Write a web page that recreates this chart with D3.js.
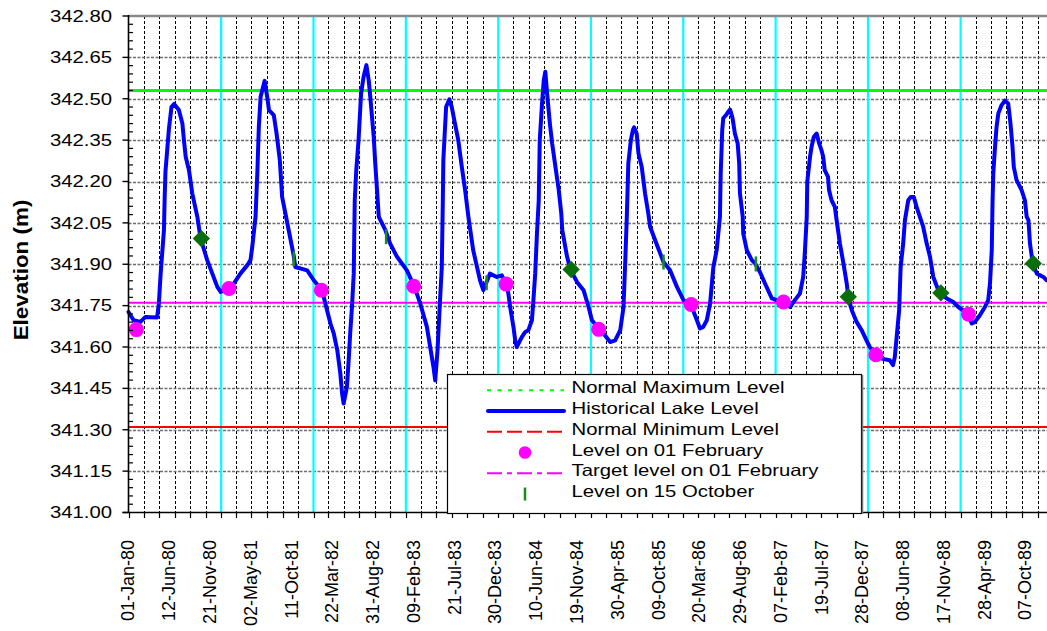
<!DOCTYPE html>
<html><head><meta charset="utf-8">
<script src="https://cdn.jsdelivr.net/npm/d3@7"></script>
<style>
body{margin:0;background:#fff}
svg{display:block}
text{font-family:"Liberation Sans",Arial,sans-serif;fill:#000}
</style>
</head><body>
<svg id="chart" width="1047" height="631"></svg>
<script>
// ---------------- data ----------------
const levelDates = [
"1980-01-01","1980-01-21","1980-02-17","1980-03-08","1980-04-23","1980-04-30","1980-05-07","1980-05-20","1980-05-23","1980-05-26",
"1980-06-03","1980-06-09","1980-06-19","1980-06-29","1980-07-18","1980-08-01","1980-08-07","1980-08-14","1980-08-27","1980-09-09",
"1980-09-29","1980-10-12","1980-11-07","1980-12-17","1980-12-30","1981-02-05","1981-02-20","1981-03-18","1981-04-14","1981-04-27",
"1981-05-04","1981-05-17","1981-05-24","1981-05-30","1981-06-06","1981-06-22","1981-07-02","1981-07-09","1981-07-28","1981-08-08",
"1981-08-21","1981-08-30","1981-09-12","1981-10-15","1981-10-21","1981-12-07","1982-01-02","1982-02-04","1982-02-17","1982-03-09",
"1982-03-22","1982-04-05","1982-04-17","1982-04-24","1982-04-30","1982-05-13","1982-05-20","1982-05-26","1982-06-02","1982-06-09",
"1982-06-13","1982-06-19","1982-06-28","1982-07-08","1982-07-18","1982-07-29","1982-08-07","1982-08-14","1982-08-20","1982-08-27",
"1982-09-02","1982-09-09","1982-09-16","1982-10-12","1982-10-31","1982-11-27","1983-01-05","1983-02-03","1983-02-27","1983-03-25",
"1983-04-07","1983-04-20","1983-04-27","1983-05-06","1983-05-16","1983-05-23","1983-05-27","1983-05-29","1983-06-09","1983-06-22",
"1983-07-01","1983-07-14","1983-07-27","1983-08-10","1983-08-23","1983-09-05","1983-09-24","1983-10-21","1983-11-03","1983-11-16",
"1983-11-29","1983-12-26","1984-01-15","1984-01-31","1984-02-10","1984-02-17","1984-03-01","1984-03-08","1984-03-14","1984-04-03",
"1984-04-16","1984-04-29","1984-05-13","1984-05-19","1984-05-26","1984-06-02","1984-06-09","1984-06-13","1984-06-22","1984-06-29",
"1984-07-05","1984-07-12","1984-07-23","1984-08-01","1984-08-14","1984-08-27","1984-09-06","1984-09-10","1984-09-29","1984-10-12",
"1984-11-07","1984-12-03","1984-12-23","1985-01-05","1985-02-04","1985-02-20","1985-03-18","1985-04-07","1985-04-27","1985-05-10",
"1985-05-16","1985-05-23","1985-05-29","1985-06-08","1985-06-16","1985-06-21","1985-07-01","1985-07-08","1985-07-21","1985-08-03",
"1985-08-16","1985-08-23","1985-09-12","1985-10-15","1985-11-10","1985-12-07","1986-01-02","1986-01-31","1986-02-24","1986-03-08",
"1986-03-21","1986-04-04","1986-04-17","1986-04-30","1986-05-13","1986-05-26","1986-05-29","1986-06-04","1986-06-08","1986-06-19",
"1986-06-28","1986-07-05","1986-07-15","1986-07-24","1986-08-04","1986-08-10","1986-08-13","1986-08-24","1986-08-26","1986-09-09",
"1986-09-29","1986-10-12","1986-10-31","1986-11-20","1986-12-17","1987-01-05","1987-02-03","1987-02-27","1987-03-18","1987-04-07",
"1987-04-20","1987-04-27","1987-05-04","1987-05-06","1987-05-17","1987-05-23","1987-06-01","1987-06-12","1987-06-22","1987-07-01",
"1987-07-08","1987-07-14","1987-07-27","1987-07-31","1987-08-10","1987-08-23","1987-08-30","1987-09-12","1987-09-26","1987-10-09",
"1987-10-15","1987-10-29","1987-11-17","1987-12-07","1987-12-26","1988-01-08","1988-01-28","1988-02-24","1988-03-27","1988-04-09",
"1988-04-16","1988-04-22","1988-05-03","1988-05-09","1988-05-19","1988-05-26","1988-06-08","1988-06-18","1988-06-30","1988-07-11",
"1988-07-24","1988-08-06","1988-08-20","1988-09-02","1988-09-15","1988-10-09","1988-11-07","1988-12-03","1988-12-23","1989-02-01",
"1989-02-14","1989-02-27","1989-03-18","1989-04-07","1989-04-20","1989-04-27","1989-05-04","1989-05-07","1989-05-10","1989-05-17",
"1989-05-23","1989-05-30","1989-06-12","1989-06-25","1989-07-08","1989-07-17","1989-07-25","1989-07-30","1989-08-10","1989-08-30",
"1989-09-12","1989-09-19","1989-09-26","1989-10-02","1989-10-13","1989-10-29","1989-11-24","1989-12-07"
];
const levelValues = [
341.727,341.697,341.691,341.709,341.707,341.757,341.866,342.023,342.144,342.235,
342.326,342.393,342.471,342.481,342.459,342.410,342.350,342.290,342.241,342.157,
342.072,341.993,341.915,341.818,341.800,341.815,341.830,341.866,341.896,341.915,
341.963,342.072,342.229,342.398,342.507,342.565,342.507,342.459,342.441,342.374,
342.277,342.144,342.084,341.930,341.890,341.878,341.842,341.806,341.757,341.685,
341.649,341.588,341.504,341.431,341.395,341.455,341.552,341.649,341.745,341.866,
342.132,342.241,342.350,342.519,342.580,342.622,342.568,342.501,342.435,342.362,
342.266,342.169,342.072,342.024,341.975,341.927,341.878,341.820,341.757,341.673,
341.600,341.528,341.479,341.588,341.770,341.890,342.132,342.277,342.471,342.498,
342.471,342.410,342.350,342.253,342.169,342.072,341.951,341.842,341.806,341.836,
341.866,341.854,341.860,341.828,341.794,341.745,341.673,341.624,341.600,341.636,
341.654,341.661,341.697,341.770,341.866,342.012,342.132,342.350,342.483,342.568,
342.598,342.519,342.410,342.338,342.253,342.169,342.084,342.024,341.927,341.881,
341.836,341.806,341.745,341.697,341.664,341.649,341.618,341.624,341.661,341.745,
341.890,342.072,342.266,342.350,342.386,342.396,342.374,342.302,342.253,342.157,
342.084,342.036,341.987,341.908,341.878,341.818,341.770,341.754,341.697,341.667,
341.673,341.697,341.757,341.890,341.951,342.072,342.229,342.386,342.429,342.441,
342.453,342.461,342.429,342.374,342.338,342.266,342.157,342.072,342.012,341.951,
341.915,341.903,341.872,341.830,341.776,341.770,341.763,341.745,341.770,341.794,
341.854,341.951,342.072,342.199,342.290,342.326,342.362,342.374,342.338,342.314,
342.290,342.241,342.217,342.169,342.132,342.108,342.060,341.975,341.903,341.830,
341.782,341.733,341.691,341.661,341.624,341.600,341.572,341.558,341.552,341.534,
341.564,341.624,341.733,341.890,341.975,342.060,342.132,342.144,342.144,342.108,
342.072,342.036,341.975,341.927,341.854,341.796,341.776,341.763,341.745,341.719,
341.685,341.691,341.715,341.745,341.770,341.830,341.951,342.120,342.229,342.326,
342.398,342.447,342.477,342.493,342.483,342.410,342.326,342.253,342.205,342.169,
342.132,342.072,342.060,341.975,341.903,341.866,341.854,341.842
];

const feb1Dates = ["1980-02-01","1981-02-01","1982-02-01","1983-02-01","1984-02-01","1985-02-01","1986-02-01","1987-02-01","1988-02-01","1989-02-01"];
const feb1Values = [341.663,341.812,341.806,341.820,341.828,341.664,341.754,341.763,341.572,341.719];

const oct15TickDates = ["1981-10-15","1982-10-15","1983-11-16","1985-10-15","1986-10-15"];
const oct15TickValues = [341.920,342.000,341.833,341.908,341.901];
const oct15DiamondDates = ["1980-10-15","1984-10-15","1987-10-15","1988-10-15","1989-10-15"];
const oct15DiamondValues = [341.993,341.881,341.782,341.796,341.903];

const normalMaxLevel = 342.53;
const normalMinLevel = 341.31;
const targetFeb1Level = 341.76;

const xTickLabels = ["01-Jan-80","12-Jun-80","21-Nov-80","02-May-81","11-Oct-81","22-Mar-82","31-Aug-82","09-Feb-83",
"21-Jul-83","30-Dec-83","10-Jun-84","19-Nov-84","30-Apr-85","09-Oct-85","20-Mar-86","29-Aug-86","07-Feb-87",
"19-Jul-87","28-Dec-87","08-Jun-88","17-Nov-88","28-Apr-89","07-Oct-89"];
const yTickValues = [341.00,341.15,341.30,341.45,341.60,341.75,341.90,342.05,342.20,342.35,342.50,342.65,342.80];
const yMinorStep = 0.03;
const yAxisTitle = "Elevation (m)";
const legendLabels = ["Normal Maximum Level","Historical Lake Level","Normal Minimum Level","Level on 01 February","Target level on 01 February","Level on 15 October"];

// ---------------- setup ----------------
const parse = d3.utcParse("%Y-%m-%d");
const level = levelDates.map((d,i)=>({date:parse(d), v:levelValues[i]}));
const feb1 = feb1Dates.map((d,i)=>({date:parse(d), v:feb1Values[i]}));
const octTicks = oct15TickDates.map((d,i)=>({date:parse(d), v:oct15TickValues[i]}));
const octDiamonds = oct15DiamondDates.map((d,i)=>({date:parse(d), v:oct15DiamondValues[i]}));

const L = 128.5, R = 1053, T = 16, B = 512.5;
const x = d3.scaleUtc().domain([parse("1980-01-01"), parse("1990-01-01")]).range([L, R]);
const y = d3.scaleLinear().domain([341.0, 342.8]).range([B, T]);
const xLab = d3.scalePoint().domain(xTickLabels).range([128, 1025]);

const svg = d3.select("#chart");
const g = svg.append("g");

// vertical gridlines every two months
const gridDates = x.ticks(d3.utcMonth.every(2)).filter(d => d.getUTCMonth() !== 0);
g.append("g").selectAll("line").data(gridDates).join("line")
  .attr("x1", d=>Math.round(x(d))+0.5).attr("x2", d=>Math.round(x(d))+0.5)
  .attr("y1", T).attr("y2", B)
  .attr("stroke","#000").attr("stroke-width",1).attr("stroke-dasharray","3,2");

// horizontal gridlines
g.append("g").selectAll("line").data(yTickValues.filter(v=>v>341.0 && v<342.8)).join("line")
  .attr("x1", L).attr("x2", 1047)
  .attr("y1", d=>Math.round(y(d))+0.5).attr("y2", d=>Math.round(y(d))+0.5)
  .attr("stroke","#6e6e6e").attr("stroke-width",1.5).attr("stroke-dasharray","3,1.5");

// cyan year lines
const yearDates = x.ticks(d3.utcYear.every(1)).filter(d => x(d) > L + 2);
g.append("g").selectAll("line").data(yearDates).join("line")
  .attr("x1", d=>x(d)).attr("x2", d=>x(d)).attr("y1", T).attr("y2", B)
  .attr("stroke","#00FFFF").attr("stroke-width",2.2);

// reference levels
g.append("line").attr("x1",L).attr("x2",1047).attr("y1",y(normalMaxLevel)).attr("y2",y(normalMaxLevel))
  .attr("stroke","#00FF00").attr("stroke-width",3);
g.append("line").attr("x1",L).attr("x2",1047).attr("y1",y(normalMinLevel)).attr("y2",y(normalMinLevel))
  .attr("stroke","#FF0000").attr("stroke-width",2);
g.append("line").attr("x1",L).attr("x2",1047).attr("y1",y(targetFeb1Level)).attr("y2",y(targetFeb1Level))
  .attr("stroke","#FF00FF").attr("stroke-width",2);

// lake level line
const line = d3.line().x(d=>x(d.date)).y(d=>y(d.v));
g.append("path").datum(level).attr("d", line)
  .attr("fill","none").attr("stroke","#0000FF").attr("stroke-width",4)
  .attr("stroke-linejoin","round").attr("stroke-linecap","round");

// Oct 15 ticks
g.append("g").selectAll("line").data(octTicks).join("line")
  .attr("x1", d=>x(d.date)).attr("x2", d=>x(d.date))
  .attr("y1", d=>y(d.v)-7.5).attr("y2", d=>y(d.v)+7.5)
  .attr("stroke","#1a8c1a").attr("stroke-width",2.5);

// Oct 15 diamonds
g.append("g").selectAll("path").data(octDiamonds).join("path")
  .attr("d", d3.symbol(d3.symbolSquare, 150)())
  .attr("transform", d=>`translate(${x(d.date)},${y(d.v)}) rotate(45)`)
  .attr("fill","#0a6e0a");

// Feb 1 dots
g.append("g").selectAll("circle").data(feb1).join("circle")
  .attr("cx", d=>x(d.date)).attr("cy", d=>y(d.v)).attr("r",7.5)
  .attr("fill","#FF00FF");

// top border
g.append("line").attr("x1",L).attr("x2",1047).attr("y1",T).attr("y2",T)
  .attr("stroke","#8a8a8a").attr("stroke-width",2.5);

// axes
const ax = g.append("g");
ax.append("line").attr("x1",L).attr("x2",L).attr("y1",T-1).attr("y2",B+0.5).attr("stroke","#000").attr("stroke-width",1.6);
ax.append("line").attr("x1",L-6).attr("x2",1047).attr("y1",B).attr("y2",B).attr("stroke","#000").attr("stroke-width",1.6);
// y major ticks
ax.selectAll(".ymaj").data(yTickValues).join("line").attr("class","ymaj")
  .attr("x1",L-6).attr("x2",L).attr("y1",d=>y(d)).attr("y2",d=>y(d))
  .attr("stroke","#000").attr("stroke-width",1.4);
// y minor ticks
const minorVals = d3.range(341.0, 342.8001, yMinorStep).filter(v => Math.abs(((v-341.0)/0.15) - Math.round((v-341.0)/0.15)) > 0.01);
ax.selectAll(".ymin").data(minorVals).join("line").attr("class","ymin")
  .attr("x1",L).attr("x2",L+4.5).attr("y1",d=>y(d)).attr("y2",d=>y(d))
  .attr("stroke","#000").attr("stroke-width",1.2);
// x ticks
ax.selectAll(".xt").data(x.ticks(d3.utcMonth.every(2))).join("line").attr("class","xt")
  .attr("x1",d=>Math.round(x(d))+0.5).attr("x2",d=>Math.round(x(d))+0.5).attr("y1",B).attr("y2",B+5.5)
  .attr("stroke","#000").attr("stroke-width",1.2);

// y labels
ax.selectAll(".yl").data(yTickValues).join("text").attr("class","yl")
  .attr("transform", d=>`translate(112,${y(d)}) scale(1.27,1)`)
  .attr("text-anchor","end").attr("dy","0.36em")
  .style("font-size","16px")
  .text(d=>d3.format(".2f")(d));

// x labels
ax.selectAll(".xl").data(xTickLabels).join("text").attr("class","xl")
  .attr("transform", d=>`translate(${xLab(d)},540) rotate(-90)`)
  .attr("text-anchor","end").attr("dy","0.36em")
  .style("font-size","18px")
  .text(d=>d);

// y title
svg.append("text")
  .attr("transform","translate(21,270) rotate(-90) scale(1.15,1)")
  .attr("text-anchor","middle").attr("dy","0.36em")
  .style("font-size","19.5px").style("font-weight","bold")
  .text(yAxisTitle);

// legend
const lg = svg.append("g");
lg.append("rect").attr("x",447.5).attr("y",374.5).attr("width",414).attr("height",139)
  .attr("fill","#fff").attr("stroke","#000").attr("stroke-width",1.2);
lg.append("line").attr("x1",862.5).attr("x2",862.5).attr("y1",375).attr("y2",514).attr("stroke","#777").attr("stroke-width",1.5);
const rowBase = d3.range(legendLabels.length).map(i => 393.3 + i*20.75);
lg.selectAll("text").data(legendLabels).join("text")
  .attr("transform",(d,i)=>`translate(571.5,${rowBase[i]}) scale(1.23,1)`)
  .style("font-size","16.5px").text(d=>d);
const sx1 = 487, sx2 = 564, scx = 525;
const sy = i => rowBase[i] - 3;
lg.append("line").attr("x1",sx1).attr("x2",sx2).attr("y1",sy(0)).attr("y2",sy(0))
  .attr("stroke","#00FF00").attr("stroke-width",2).attr("stroke-dasharray","4,6.5");
lg.append("line").attr("x1",sx1+1).attr("x2",sx2).attr("y1",sy(1)).attr("y2",sy(1))
  .attr("stroke","#0000FF").attr("stroke-width",4).attr("stroke-linecap","round");
lg.append("line").attr("x1",sx1).attr("x2",sx2).attr("y1",sy(2)).attr("y2",sy(2))
  .attr("stroke","#FF0000").attr("stroke-width",2).attr("stroke-dasharray","15,5");
lg.append("circle").attr("cx",scx).attr("cy",sy(3)).attr("r",6.3).attr("fill","#FF00FF");
lg.append("line").attr("x1",sx1).attr("x2",sx2).attr("y1",sy(4)).attr("y2",sy(4))
  .attr("stroke","#FF00FF").attr("stroke-width",2).attr("stroke-dasharray","15,5,5,5");
lg.append("line").attr("x1",scx).attr("x2",scx).attr("y1",sy(5)-6.5).attr("y2",sy(5)+6.5)
  .attr("stroke","#1a8c1a").attr("stroke-width",2.5);
</script>
</body></html>
